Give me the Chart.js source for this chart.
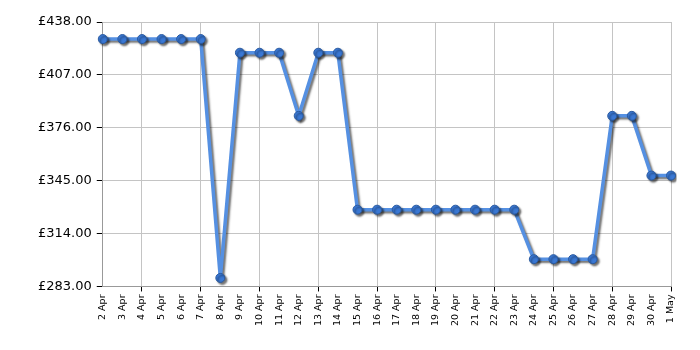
<!DOCTYPE html>
<html>
<head>
<meta charset="utf-8">
<script src="https://cdn.jsdelivr.net/npm/chart.js@4/dist/chart.umd.min.js"></script>
<style>
html,body{margin:0;padding:0;background:#fff;}
#wrap{width:700px;height:350px;position:relative;}
</style>
</head>
<body>
<div id="wrap"><canvas id="c" width="700" height="350"></canvas></div>
<script>
const categories = ["2 Apr","3 Apr","4 Apr","5 Apr","6 Apr","7 Apr","8 Apr","9 Apr","10 Apr","11 Apr","12 Apr","13 Apr","14 Apr","15 Apr","16 Apr","17 Apr","18 Apr","19 Apr","20 Apr","21 Apr","22 Apr","23 Apr","24 Apr","25 Apr","26 Apr","27 Apr","28 Apr","29 Apr","30 Apr","1 May"];
const prices = [428,428,428,428,428,428,288,420,420,420,383,420,420,328,328,328,328,328,328,328,328,328,299,299,299,299,383,383,348,348];
const yMin = 283, yMax = 438, yStep = 31;

const shadowPlugin = {
  id: 'shadow',
  beforeDatasetsDraw(chart) {
    const ctx = chart.ctx;
    ctx.save();
    ctx.shadowColor = 'rgba(0,0,0,0.55)';
    ctx.shadowOffsetX = 2;
    ctx.shadowOffsetY = 2;
    ctx.shadowBlur = 2;
  },
  afterDatasetsDraw(chart) {
    chart.ctx.restore();
  }
};

const n = categories.length;
function isMajor(i){ return (n - 1 - i) % 3 === 0; }

new Chart(document.getElementById('c'), {
  type: 'line',
  data: {
    labels: categories,
    datasets: [{
      data: prices,
      borderColor: '#5590e2',
      borderWidth: 3.5,
      backgroundColor: '#3a78d4',
      pointBackgroundColor: '#3a78d4',
      pointBorderColor: '#2a5aa0',
      pointBorderWidth: 1,
      pointRadius: 4.5,
      tension: 0,
      fill: false
    }]
  },
  plugins: [shadowPlugin],
  options: {
    responsive: false,
    animation: false,
    layout: { padding: { left: 33, right: 29, top: 22, bottom: 21 } },
    plugins: { legend: { display: false }, tooltip: { enabled: false } },
    scales: {
      x: {
        offset: false,
        grid: {
          color: (c) => (c.index !== undefined && isMajor(c.index)) ? '#c4c4c4' : 'rgba(0,0,0,0)',
          tickColor: (c) => (c.index !== undefined && isMajor(c.index)) ? '#000' : 'rgba(0,0,0,0)',
          tickLength: 5,
          drawTicks: true
        },
        border: { color: '#999', width: 1 },
        ticks: {
          autoSkip: false,
          maxRotation: 90,
          minRotation: 90,
          color: '#000',
          padding: 3,
          font: { family: 'DejaVu Sans', size: 9.5 }
        }
      },
      y: {
        min: yMin,
        max: yMax,
        grid: { color: '#c4c4c4', tickColor: '#000', tickLength: 6 },
        border: { color: '#999', width: 1 },
        ticks: {
          stepSize: yStep,
          color: '#000',
          padding: 5,
          font: { family: 'DejaVu Sans', size: 13 },
          callback: (v) => '£' + Number(v).toFixed(2)
        }
      }
    }
  }
});
</script>
</body>
</html>
